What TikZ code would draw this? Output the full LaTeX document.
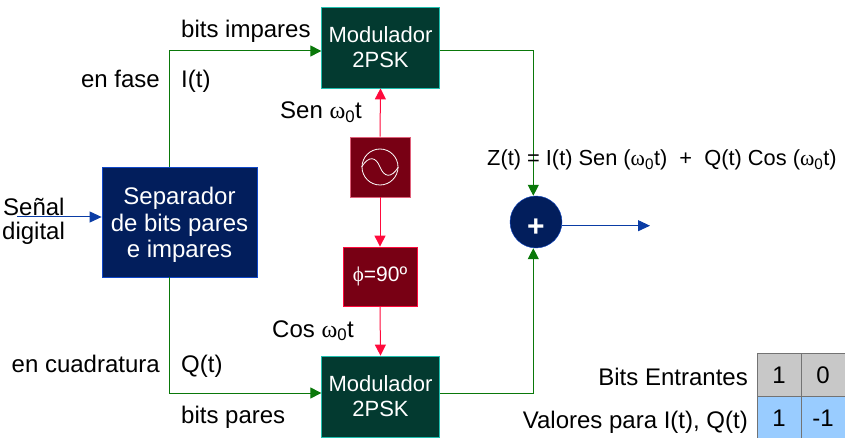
\documentclass[tikz,border=0pt]{standalone}
\usepackage{fontspec}
\setmainfont{Liberation Sans}
\newfontfamily\symbfont{Liberation Serif}
\usetikzlibrary{arrows.meta}
\definecolor{modfill}{HTML}{033A30}
\definecolor{modedge}{HTML}{20BFB0}
\definecolor{sepfill}{HTML}{021E5C}
\definecolor{sepedge}{HTML}{0F47C8}
\definecolor{oscfill}{HTML}{780014}
\definecolor{oscedge}{HTML}{E0607A}
\definecolor{redline}{HTML}{FF0A3C}
\definecolor{greenline}{HTML}{0A780A}
\definecolor{blueline}{HTML}{0A3CA5}
\definecolor{cellgray}{HTML}{C8C8C8}
\definecolor{cellblue}{HTML}{99CCFF}
\newcommand{\wt}{{\symbfont ω}\textsubscript{0}t}
\begin{document}
\begin{tikzpicture}[x=1pt,y=-1pt,
   lbl/.style={anchor=base west,inner sep=0pt,font=\fontsize{24}{26}\selectfont},
   lblr/.style={lbl,anchor=base east},
   modbox/.style={draw=modedge,fill=modfill,text=white,line width=0.8pt,align=center,
      minimum width=117.5pt,minimum height=81pt,inner sep=0pt,
      font=\fontsize{22}{25}\selectfont},
   sepbox/.style={draw=sepedge,fill=sepfill,text=white,line width=0.8pt,align=center,
      minimum width=155pt,minimum height=110pt,inner sep=0pt,
      font=\fontsize{24}{26.5}\selectfont},
   oscbox/.style={draw=oscedge,fill=oscfill,line width=0.8pt,inner sep=0pt,text=white},
   cell/.style={draw=black!55,line width=1pt,minimum width=44pt,minimum height=43pt,inner sep=0pt,
      font=\fontsize{24}{26}\selectfont},
   gline/.style={draw=greenline,line width=1pt,-{Triangle[length=11pt,width=11pt]}},
   rline/.style={draw=redline,line width=1pt,-{Triangle[length=11pt,width=11pt]}},
   bline/.style={draw=blueline,line width=1pt,-{Triangle[length=12pt,width=11pt]}}]
\useasboundingbox (0,0) rectangle (845,438);
% boxes
\node[sepbox] (sep) at (179.5,222) {\rule{0pt}{23pt}Separador\\de bits pares\\e impares};
\node[modbox] (modtop) at (380.5,47.5) {Modulador\\2PSK};
\node[modbox] (modbot) at (380.5,396.5) {Modulador\\2PSK};
\node[oscbox,minimum width=60pt,minimum height=60pt] (osc) at (380,167) {};
\node[oscbox,draw=redline,minimum width=74pt,minimum height=59pt,
      font=\fontsize{21}{24}\selectfont] (phi) at (380,276.5) {{\symbfont ϕ}=90º};
\node[circle,draw=sepedge,fill=sepfill,text=white,minimum size=52pt,inner sep=0pt,
      font=\fontsize{30}{30}\bfseries\selectfont] (sum) at (536,222) {\raisebox{-14.5pt}[0pt][0pt]{+}};
% oscillator symbol
\node[circle,draw=white,line width=0.8pt,minimum size=36pt,inner sep=0pt] (oscring) at (osc.center) {};
\draw[white,line width=0.8pt] (oscring.west) .. controls (369,155) and (376,157) .. (oscring.center)
   .. controls (384,177) and (391,179) .. (oscring.east);
% corners
\coordinate (fase) at (169,51);
\coordinate (cuad) at (169,393);
\coordinate (sumtop) at (533.3,51);
\coordinate (sumbot) at (533.3,393);
\coordinate (inp) at (17,217);
\coordinate (outp) at (650,225.7);
% connectors
\draw[gline] (sep.north -| fase) -- (fase) -- (fase -| modtop.west);
\draw[gline] (sep.south -| cuad) -- (cuad) -- (cuad -| modbot.west);
\draw[gline] (sumtop -| modtop.east) -- (sumtop) -- (sumtop |- sum.north);
\draw[gline] (sumbot -| modbot.east) -- (sumbot) -- (sumbot |- sum.south);
\draw[rline] (osc.north) -- (modtop.south);
\draw[rline] (osc.south) -- (phi.north);
\draw[rline] (phi.south) -- (modbot.north);
\draw[bline] (inp) -- (inp -| sep.west);
\draw[bline] (outp -| sum.east) -- (outp);
% labels
\node[lbl] (lbimp) at (181,38) {bits impares};
\node[lblr] (lfase) at (160,88) {en fase};
\node[lbl] (lit) at (181,88) {I(t)};
\node[lbl] (lsen) at (280,119) {Sen \wt};
\node[lbl] (lsenal) at (3,215) {Señal};
\node[lbl] (ldig) at (2,240) {digital};
\node[lbl] (lcos) at (272,337) {Cos \wt};
\node[lblr] (lcuad) at (160,372) {en cuadratura};
\node[lbl] (lqt) at (181,372) {Q(t)};
\node[lbl] (lbpar) at (181,423) {bits pares};
\node[lbl,font=\fontsize{21.8}{24}\selectfont] (lz) at (487,166) {Z(t) = I(t) Sen ({\symbfont ω}\textsubscript{0}t)\ \ +\ \ Q(t) Cos ({\symbfont ω}\textsubscript{0}t)};
% table
\node[cell,fill=cellgray] (c11) at (779,375) {1};
\node[cell,fill=cellgray] (c12) at (823,375) {0};
\node[cell,fill=cellblue] (c21) at (779,418) {1};
\node[cell,fill=cellblue] (c22) at (823,418) {-1};
\node[lblr] (lbits) at (748,385) {Bits Entrantes};
\node[lblr] (lval) at (748,428) {Valores para I(t), Q(t)};
\end{tikzpicture}
\end{document}
